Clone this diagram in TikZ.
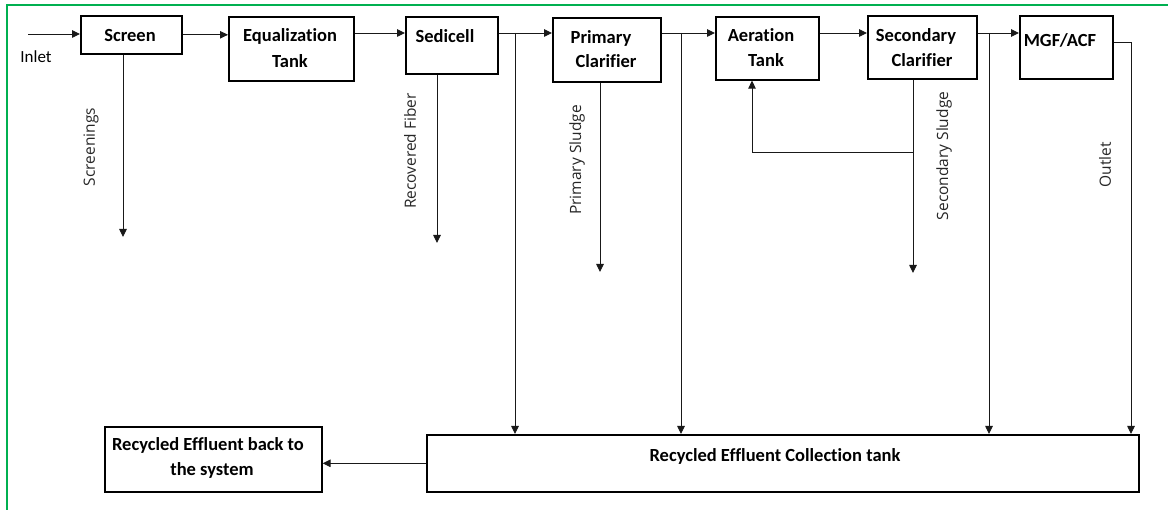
\documentclass[tikz,border=0pt]{standalone}
\usepackage{fontspec}
\setmainfont{Carlito}[Ligatures=NoCommon]
\newfontfamily\lblfont{Open Sans}[Ligatures=NoCommon]
\usetikzlibrary{arrows.meta}
\definecolor{framegreen}{RGB}{0,176,80}

\begin{document}
\begin{tikzpicture}[x=1pt,y=-1pt,
  box/.style={draw=black,line width=1.6pt,inner sep=0pt,anchor=north west},
  boxtext/.style={font=\fontsize{18.5}{22}\selectfont\bfseries,anchor=base,inner sep=0pt},
  plaintext/.style={font=\fontsize{17}{20}\selectfont,anchor=base,inner sep=0pt},
  sidetext/.style={font=\lblfont\fontsize{15.5}{18}\selectfont,rotate=90,inner sep=0pt,text=black!85},
  flow/.style={draw=black!90,line width=0.9pt,-{Triangle[length=8pt,width=7.5pt]}}]

\useasboundingbox (0,0) rectangle (1168,510);

% outer frame
\draw[framegreen,line width=2pt] (6.5,510) -- (6.5,5) -- (1168,5);

% treatment units
\node[box,minimum width=101pt,minimum height=38pt] (screen)    at (80,15)   {};
\node[box,minimum width=125pt,minimum height=64pt] (eq)        at (228,16)  {};
\node[box,minimum width=92pt, minimum height=57pt] (sedicell)  at (405,16)  {};
\node[box,minimum width=108pt,minimum height=64pt] (primary)   at (552,17)  {};
\node[box,minimum width=103pt,minimum height=63pt] (aeration)  at (715,16)  {};
\node[box,minimum width=109pt,minimum height=63pt] (secondary) at (867,15)  {};
\node[box,minimum width=93pt, minimum height=63pt] (mgf)       at (1019,15) {};
\node[box,minimum width=217pt,minimum height=65pt] (back)      at (104,426) {};
\node[box,minimum width=712pt,minimum height=57pt] (tank)      at (426,434) {};

% unit labels
\node[boxtext] (screen-t)  at (130,42)  {Screen};
\node[boxtext] (eq-t1)     at (290,42)  {Equalization};
\node[boxtext] (eq-t2)     at (290,68)  {Tank};
\node[boxtext] (sed-t)     at (445,43)  {Sedicell};
\node[boxtext] (pri-t1)    at (601,44)  {Primary};
\node[boxtext] (pri-t2)    at (606,68)  {Clarifier};
\node[boxtext] (aer-t1)    at (761,42)  {Aeration};
\node[boxtext] (aer-t2)    at (766,67)  {Tank};
\node[boxtext] (sec-t1)    at (916,42)  {Secondary};
\node[boxtext] (sec-t2)    at (922,67)  {Clarifier};
\node[boxtext] (mgf-t)     at (1060,47) {MGF/ACF};
\node[boxtext] (back-t1)   at (208,451) {Recycled Effluent back to};
\node[boxtext] (back-t2)   at (212,476) {the system};
\node[boxtext] (tank-t)    at (775,462) {Recycled Effluent Collection tank};
\node[plaintext] (inlet-t) at (36,62.5) {Inlet};

% stream labels
\node[sidetext] (scr-l) at (91,147)   {Screenings};
\node[sidetext] (fib-l) at (410,151)  {Recovered Fiber};
\node[sidetext] (psl-l) at (577,160)  {Primary Sludge};
\node[sidetext] (ssl-l) at (944,156)  {Secondary Sludge};
\node[sidetext] (out-l) at (1105,165) {Outlet};

% reference points
\coordinate (lvl)     at (0,33);
\coordinate (in)      at (28,34);
\coordinate (by1)     at (515,33);
\coordinate (by2)     at (681,33);
\coordinate (by3)     at (989,33);
\coordinate (out)     at (1131,42);
\coordinate (scr-end) at (123,237);
\coordinate (fib-end) at (437,243);
\coordinate (psl-end) at (600,272);
\coordinate (ssl-end) at (913,273);
\coordinate (ras)     at (752,152);

% main process line
\draw[flow] (in) -- (in -| screen.west);
\draw[flow] (screen.east) -- (screen.east -| eq.west);
\draw[flow] (eq.east |- lvl) -- (sedicell.west |- lvl);
\draw[flow] (sedicell.east |- lvl) -- (primary.west |- lvl);
\draw[flow] (primary.east |- lvl) -- (aeration.west |- lvl);
\draw[flow] (aeration.east |- lvl) -- (secondary.west |- lvl);
\draw[flow] (secondary.east |- lvl) -- (mgf.west |- lvl);

% by-pass lines to the collection tank
\draw[flow] (by1) -- (by1 |- tank.north);
\draw[flow] (by2) -- (by2 |- tank.north);
\draw[flow] (by3) -- (by3 |- tank.north);
\draw[flow] (mgf.east |- out) -- (out) -- (out |- tank.north);

% solids streams
\draw[flow] (scr-end |- screen.south) -- (scr-end);
\draw[flow] (fib-end |- sedicell.south) -- (fib-end);
\draw[flow] (psl-end |- primary.south) -- (psl-end);
\draw[flow] (ssl-end |- secondary.south) -- (ssl-end);

% return sludge to aeration
\draw[flow] (ssl-end |- ras) -- (ras) -- (ras |- aeration.south);

% recycled effluent back to the system
\draw[flow] (tank.west) -- (tank.west -| back.east);
\end{tikzpicture}
\end{document}
